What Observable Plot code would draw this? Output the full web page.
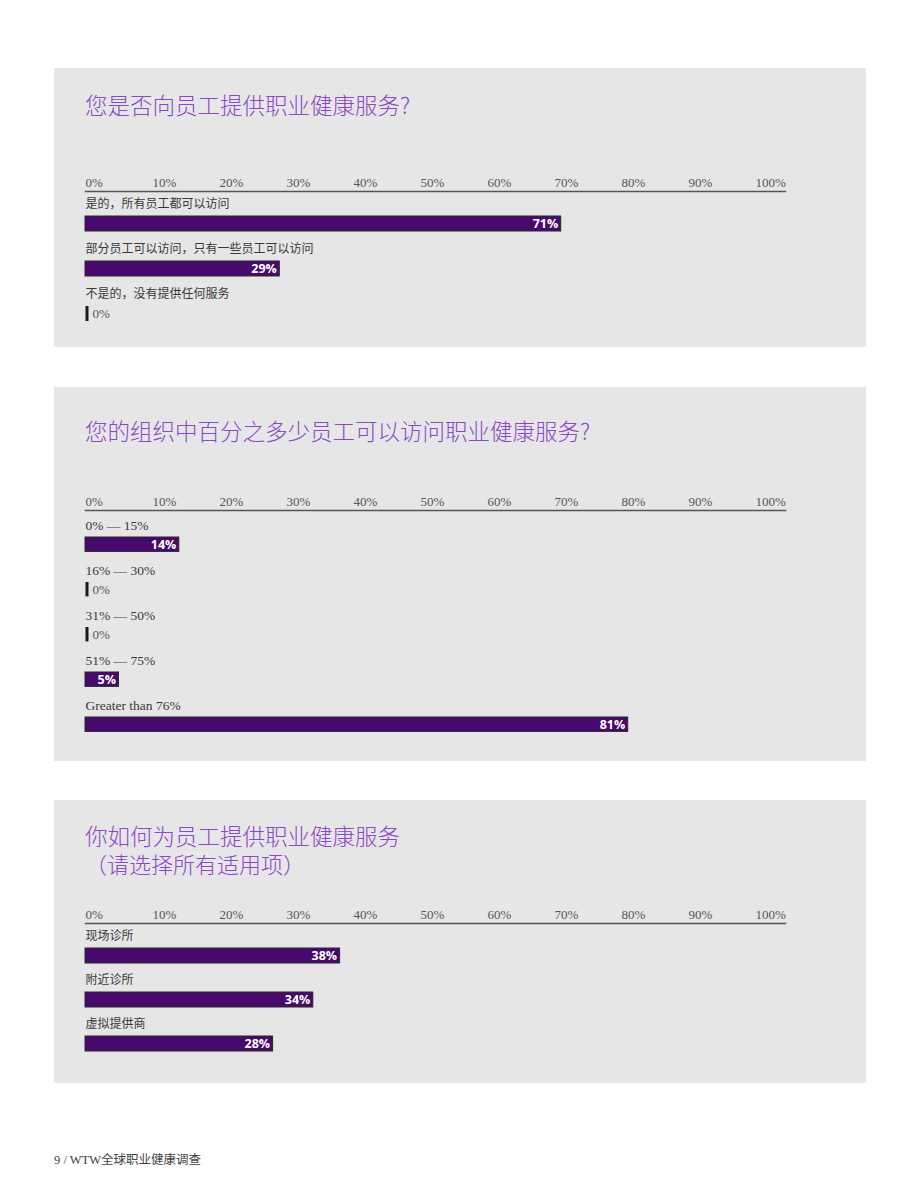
<!DOCTYPE html>
<html>
<head>
<meta charset="utf-8">
<script src="https://cdn.jsdelivr.net/npm/d3@7"></script>
<script src="https://cdn.jsdelivr.net/npm/@observablehq/plot@0.6"></script>
<style>
  html, body { margin: 0; padding: 0; background: #ffffff; }
  body { width: 920px; height: 1191px; position: relative; overflow: hidden; }
  .panel { position: absolute; left: 54px; width: 812px; background: #e6e6e6; }
  .title { position: absolute; left: 31px; margin: 0; color: #8b47c6; font-family: "Noto Sans CJK SC", sans-serif; font-weight: 300; font-size: 22.5px; line-height: 24px; white-space: nowrap; }
  .chart { position: absolute; left: 0; }
  .footer { position: absolute; left: 54px; top: 1149px; font-family: "Liberation Serif", "Noto Sans CJK SC", serif; font-size: 12.5px; color: #444; }
</style>
</head>
<body>
<div class="panel" id="p1" style="top:68px;height:279px;"><div class="title" style="top:24px;">您是否向员工提供职业健康服务?</div></div>
<div class="panel" id="p2" style="top:387px;height:374px;"><div class="title" style="top:31px;">您的组织中百分之多少员工可以访问职业健康服务?</div></div>
<div class="panel" id="p3" style="top:800px;height:283px;">
  <div class="title" style="top:23px;">你如何为员工提供职业健康服务</div>
  <div class="title" style="top:51px;font-size:22px;">（请选择所有适用项）</div>
</div>
<div class="footer">9 / WTW全球职业健康调查</div>
<script>
// ---- data ----
const tickValues = [0, 10, 20, 30, 40, 50, 60, 70, 80, 90, 100];

const q1Categories = ["是的，所有员工都可以访问", "部分员工可以访问，只有一些员工可以访问", "不是的，没有提供任何服务"];
const q1Values = [71, 29, 0];

const q2Categories = ["0% — 15%", "16% — 30%", "31% — 50%", "51% — 75%", "Greater than 76%"];
const q2Values = [14, 0, 0, 5, 81];

const q3Categories = ["现场诊所", "附近诊所", "虚拟提供商"];
const q3Values = [38, 34, 28];

// ---- chart builder ----
const BAR = "#47096b";
const LATIN_FONT = "'Liberation Serif', 'Noto Sans CJK SC', serif";

function makeChart(categories, values, rowH, marginBottom) {
  const data = categories.map((c, i) => ({cat: c, value: values[i]}));
  const marginTop = 20;
  const width = 812;
  const height = marginTop + rowH * categories.length + marginBottom;
  const labelDy = 13 - rowH / 2;
  const barTop = 25, barBottom = rowH - 40;
  const valueDy = 32.5 - rowH / 2;
  const nonzero = data.filter(d => d.value > 0);
  const zero = data.filter(d => d.value === 0);
  const svg = Plot.plot({
    width, height,
    marginTop, marginBottom, marginLeft: 31, marginRight: 81,
    style: {background: "transparent", fontFamily: LATIN_FONT, overflow: "visible"},
    x: {domain: [0, 100], range: [31, 31 + 670], label: null},
    y: {domain: categories, padding: 0, axis: null},
    marks: [
      Plot.axisX(tickValues, {
        anchor: "top", tickSize: 0, tickPadding: 5, textAnchor: "start", label: null,
        tickFormat: d => d + "%", fontSize: 13, fill: "#555", fontFamily: LATIN_FONT
      }),
      Plot.frame({anchor: "top", stroke: "#555", strokeWidth: 1.5, strokeOpacity: 1}),
      Plot.text(data, {
        x: 0, y: "cat", text: "cat", textAnchor: "start", dy: labelDy,
        fontSize: d => /[\u4e00-\u9fff]/.test(d.cat) ? 12 : 13.5, fill: "#383838", fontFamily: LATIN_FONT
      }),
      Plot.barX(nonzero, {
        x: "value", y: "cat", fill: BAR, stroke: "#2a2a2a", strokeWidth: 1,
        insetTop: barTop, insetBottom: barBottom
      }),
      Plot.text(nonzero, {
        x: "value", y: "cat", text: d => d.value + "%", textAnchor: "end",
        dx: -3, dy: valueDy, fill: "white", fontWeight: 700, fontSize: 12.5,
        fontFamily: "'Open Sans', 'Noto Sans', sans-serif"
      }),
      Plot.tickX(zero, {
        x: "value", y: "cat", stroke: "#1a1a1a", strokeWidth: 3, dx: 1.5,
        insetTop: barTop, insetBottom: barBottom
      }),
      Plot.text(zero, {
        x: "value", y: "cat", text: d => d.value + "%", textAnchor: "start",
        dx: 7, dy: valueDy, fill: "#555", fontSize: 13, fontFamily: LATIN_FONT
      })
    ]
  });
  svg.classList.add("chart");
  svg.style.top = (123 - marginTop) + "px";
  return svg;
}

document.getElementById("p1").appendChild(makeChart(q1Categories, q1Values, 45, 21));
document.getElementById("p2").appendChild(makeChart(q2Categories, q2Values, 45.6, 24));
document.getElementById("p3").appendChild(makeChart(q3Categories, q3Values, 44, 29));
</script>
</body>
</html>
